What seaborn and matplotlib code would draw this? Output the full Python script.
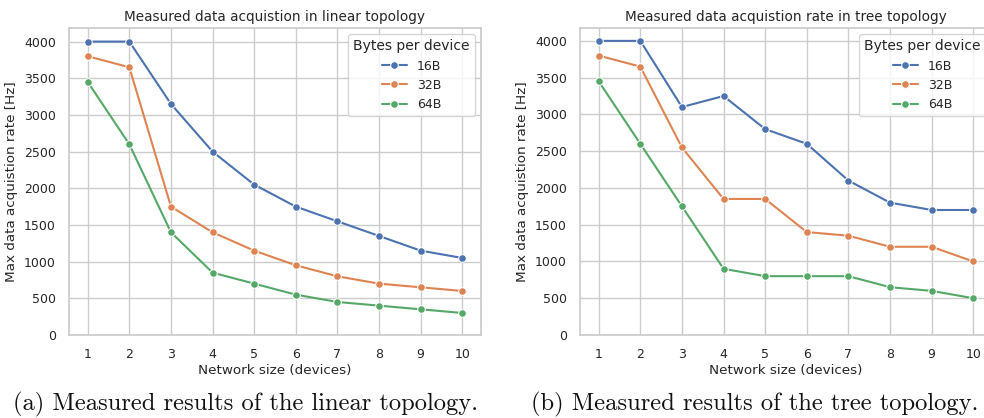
import numpy as np
import pandas as pd
import seaborn as sns
import matplotlib.pyplot as plt

# Network size (devices)
devices = [1, 2, 3, 4, 5, 6, 7, 8, 9, 10]
sizes = ["16B", "32B", "64B"]

# Max data acquisition rate [Hz], linear topology
linear_16 = [4000, 4000, 3150, 2500, 2050, 1750, 1550, 1350, 1150, 1050]
linear_32 = [3800, 3650, 1750, 1400, 1150, 950, 800, 700, 650, 600]
linear_64 = [3450, 2600, 1400, 850, 700, 550, 450, 400, 350, 300]

# Max data acquisition rate [Hz], tree topology
tree_16 = [4000, 4000, 3100, 3250, 2800, 2600, 2100, 1800, 1700, 1700]
tree_32 = [3800, 3650, 2550, 1850, 1850, 1400, 1350, 1200, 1200, 1000]
tree_64 = [3450, 2600, 1750, 900, 800, 800, 800, 650, 600, 500]


def to_long(series):
    frames = []
    for name, vals in zip(sizes, series):
        frames.append(pd.DataFrame({"devices": devices, "rate": vals, "Bytes per device": name}))
    return pd.concat(frames, ignore_index=True)


linearDF = to_long([linear_16, linear_32, linear_64])
treeDF = to_long([tree_16, tree_32, tree_64])

sns.set_theme(style="whitegrid", palette="deep")

fig = plt.figure(figsize=(9.84, 4.18), dpi=100)
ax1 = fig.add_axes([0.0701, 0.1986, 0.4187, 0.7344])
ax2 = fig.add_axes([0.5894, 0.1986, 0.4187, 0.7344])

panels = [
    (ax1, linearDF, "Measured data acquistion in linear topology"),
    (ax2, treeDF, "Measured data acquistion rate in tree topology"),
]

for ax, df, title in panels:
    sns.lineplot(data=df, x="devices", y="rate", hue="Bytes per device",
                 marker="o", markersize=5.5, linewidth=1.5, ax=ax)
    ax.set_title(title, fontsize=9.8, pad=5)
    ax.set_xlabel("Network size (devices)", fontsize=9.7, labelpad=2)
    ax.set_ylabel("Max data acquistion rate [Hz]", fontsize=9.7)
    ax.set_xticks(devices)
    ax.set_ylim(bottom=0)
    ax.tick_params(labelsize=9)
    leg = ax.legend(title="Bytes per device", loc="upper right", fontsize=9,
                    title_fontsize=10)

fig.text(0.249, 0.017, "(a) Measured results of the linear topology.",
         family="cmr10", fontsize=17.7, ha="center", va="baseline", color="#111111")
fig.text(0.767, 0.017, "(b) Measured results of the tree topology.",
         family="cmr10", fontsize=17.7, ha="center", va="baseline", color="#111111")

fig.savefig("out.png", dpi=100)
